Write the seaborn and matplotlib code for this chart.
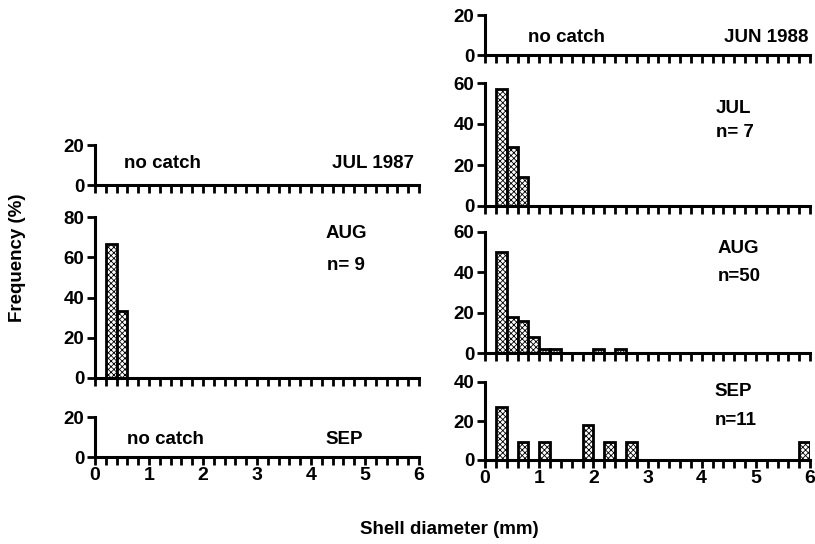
import numpy as np
import pandas as pd
import matplotlib
matplotlib.use("Agg")
import matplotlib.pyplot as plt
import seaborn as sns

# ---- data (bin left edges in mm, frequency %) ----
bin_width = 0.2
aug87_bins = [0.2, 0.4]
aug87_freq = [66.7, 33.3]
jul88_bins = [0.2, 0.4, 0.6]
jul88_freq = [57.1, 28.6, 14.3]
aug88_bins = [0.2, 0.4, 0.6, 0.8, 1.0, 1.2, 2.0, 2.4]
aug88_freq = [50, 18, 16, 8, 2, 2, 2, 2]
sep88_bins = [0.2, 0.6, 1.0, 1.8, 2.2, 2.6, 5.8]
sep88_freq = [27.3, 9.1, 9.1, 18.2, 9.1, 9.1, 9.1]
x_ticks = [0, 1, 2, 3, 4, 5, 6]

sns.set_theme(style="ticks")
plt.rcParams['font.family'] = ['Liberation Sans', 'DejaVu Sans']
plt.rcParams['font.weight'] = 'bold'
plt.rcParams['hatch.linewidth'] = 0.6
plt.rcParams['text.color'] = 'black'
plt.rcParams['xtick.color'] = 'black'
plt.rcParams['ytick.color'] = 'black'
plt.rcParams['xtick.labelcolor'] = 'black'
plt.rcParams['ytick.labelcolor'] = 'black'

fig = plt.figure(figsize=(8.15, 5.44), dpi=100)
W, H = 815, 544

def mkax(x0px, x1px, ytop, ybot):
    return fig.add_axes([x0px / W, 1 - ybot / H, (x1px - x0px) / W, (ybot - ytop) / H])

FS = 13.5
edges = [round(i * bin_width, 2) for i in range(31)]

def style(ax, ymax, yticks, bottom_labels):
    ax.set_xlim(0, 6)
    ax.set_ylim(0, ymax)
    sns.despine(ax=ax)
    for s in ['left', 'bottom']:
        ax.spines[s].set_linewidth(2.2)
        ax.spines[s].set_color('black')
    ax.set_yticks(yticks)
    ax.set_yticklabels([str(t) for t in yticks], fontsize=FS, fontweight='bold')
    ax.set_xticks(edges)
    if bottom_labels:
        ax.set_xticklabels([str(int(round(e))) if abs(e - round(e)) < 1e-6 else '' for e in edges],
                           fontsize=14, fontweight='bold')
    else:
        ax.set_xticklabels([])
    ax.tick_params(axis='y', direction='out', length=6, width=2, pad=1.5, color='black')
    ax.tick_params(axis='x', direction='out', length=6, width=2, pad=1, color='black')
    ax.set_xlabel('')
    ax.set_ylabel('')
    ax.patch.set_alpha(0)

def bars(ax, b, f):
    df = pd.DataFrame({'size': [v + bin_width / 2 for v in b], 'freq': f})
    sns.histplot(data=df, x='size', weights='freq', bins=edges, ax=ax,
                 color='white', edgecolor='black', linewidth=2, alpha=1,
                 hatch='xxxxxx')

def txt(ax, x, y, s, ha='left'):
    ax.text(x, y, s, ha=ha, va='center', fontsize=FS, fontweight='bold', color='black')

# left column
L0, L1 = 95, 419
ax = mkax(L0, L1, 145, 185)
style(ax, 20, [0, 20], False)
txt(ax, 0.54, 10.5, 'no catch')
txt(ax, 5.9, 10.5, 'JUL 1987', ha='right')

ax = mkax(L0, L1, 217, 378)
bars(ax, aug87_bins, aug87_freq)
style(ax, 80, [0, 20, 40, 60, 80], False)
txt(ax, 4.27, 72, 'AUG')
txt(ax, 4.3, 56, 'n= 9')

ax = mkax(L0, L1, 417, 457)
style(ax, 20, [0, 20], True)
txt(ax, 0.59, 9, 'no catch')
txt(ax, 4.26, 9, 'SEP')

# right column
R0, R1 = 485, 810
ax = mkax(R0, R1, 15, 55)
style(ax, 20, [0, 20], False)
txt(ax, 0.79, 8.5, 'no catch')
txt(ax, 5.97, 8.5, 'JUN 1988', ha='right')

ax = mkax(R0, R1, 83, 206)
bars(ax, jul88_bins, jul88_freq)
style(ax, 60, [0, 20, 40, 60], False)
txt(ax, 4.26, 47.8, 'JUL')
txt(ax, 4.26, 36, 'n= 7')

ax = mkax(R0, R1, 232, 353)
bars(ax, aug88_bins, aug88_freq)
style(ax, 60, [0, 20, 40, 60], False)
txt(ax, 4.3, 51.7, 'AUG')
txt(ax, 4.3, 38, 'n=50')

ax = mkax(R0, R1, 382, 460)
bars(ax, sep88_bins, sep88_freq)
style(ax, 40, [0, 20, 40], True)
txt(ax, 4.24, 35, 'SEP')
txt(ax, 4.24, 20.5, 'n=11')

fig.text(449 / W, 1 - 530 / H, 'Shell diameter (mm)', ha='center', va='center',
         fontsize=13.5, fontweight='bold', color='black')
fig.text(18 / W, 1 - 258 / H, 'Frequency (%)', ha='center', va='center',
         rotation=90, fontsize=13.5, fontweight='bold', color='black')

fig.savefig('out.png', dpi=100, facecolor='white')
